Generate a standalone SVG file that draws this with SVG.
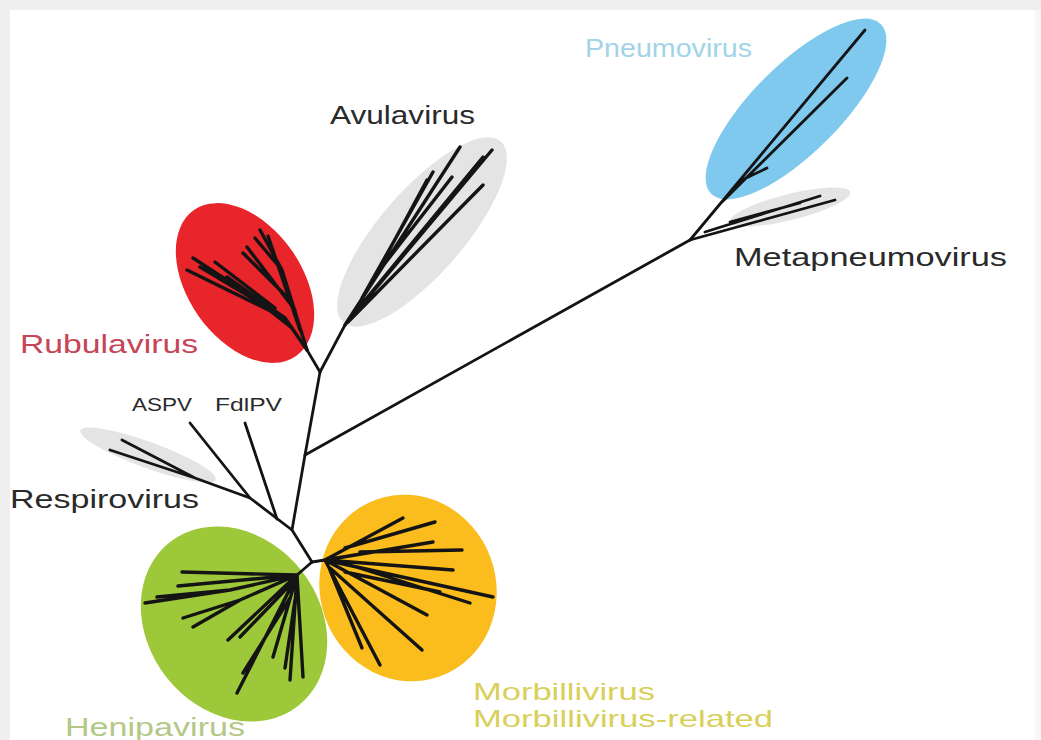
<svg xmlns="http://www.w3.org/2000/svg" width="1041" height="740" viewBox="0 0 1041 740">
<defs>
<style>
.lbl{font-family:"Liberation Sans",Arial,sans-serif;font-size:26px}
.mb{font-family:"Liberation Sans",Arial,sans-serif;font-size:24px;fill:#d8d05a}
.sm{font-family:"Liberation Sans",Arial,sans-serif;font-size:19px;fill:#2a2a2a}
.dark{fill:#2a2a2a}
.br{fill:none;stroke:#141414;stroke-width:2.8;stroke-linecap:round;stroke-linejoin:round}
.th{stroke-width:3.4}
.grey{fill:#e4e4e4}
</style>
</defs>
<rect x="0" y="0" width="1041" height="740" fill="#efefef"/>
<rect x="1035" y="10" width="6" height="730" fill="#f7f7f7"/>
<rect x="10" y="10" width="1025" height="730" fill="#ffffff"/>

<g id="clades">
<ellipse id="respiro-clade" class="grey" cx="148" cy="455" rx="72" ry="13" transform="rotate(20 148 455)"/>
<ellipse id="rubula-clade" cx="245" cy="283" rx="57" ry="89" fill="#e8252b" transform="rotate(-35 245 283)"/>
<ellipse id="avula-clade" class="grey" cx="422" cy="232" rx="42" ry="120" transform="rotate(41 422 232)"/>
<ellipse id="pneumo-clade" cx="796" cy="109" rx="44" ry="120" fill="#7fc8ee" transform="rotate(45 796 109)"/>
<ellipse id="metapneumo-clade" class="grey" cx="790" cy="207" rx="62" ry="13" transform="rotate(-14 790 207)"/>
<ellipse id="henipa-clade" cx="234" cy="624" rx="86" ry="104" fill="#9cc83a" transform="rotate(-38 234 624)"/>
<ellipse id="morbilli-clade" cx="408" cy="588" rx="88" ry="94" fill="#fbbd1d" transform="rotate(-20 408 588)"/>
</g>

<g id="connectors">
<path class="br" d="M320,372 L305,455 L292,530 L312,562"/>
<path class="br" d="M305,455 L690,240"/>
<path class="br" d="M690,240 L865,30 M722,202 L847,78 M742,180 L767,168"/>
<path class="br" d="M690,240 L835,200 M705,232 L820,196 M730,222 L800,203"/>
<path class="br" d="M292,530 L250,498 L195,478 L122,440 M195,478 L110,450"/>
<path class="br" d="M190,423 L250,498"/>
<path class="br" d="M245,423 L277,519"/>
<path class="br" d="M320,372 L307,350"/>
<path class="br th" d="M307,350 L285,318 L193,258 M285,318 L187,270 M280,315 L200,267 M275,308 L215,262 M285,318 L227,277 M292,328 L240,287"/>
<path class="br th" d="M307,350 L282,270 L260,230 M282,270 L255,238 M295,310 L247,247 M290,300 L243,253 M300,330 L268,236"/>
<path class="br" d="M320,372 L345,325"/>
<path class="br th" d="M345,325 L460,147 M345,325 L492,150 M352,316 L483,157 M362,298 L433,172 M348,322 L483,185 M372,280 L452,177 M385,258 L427,180"/>
<path class="br" d="M312,562 L297,575"/>
<path class="br th" d="M297,575 L182,572 M297,575 L178,586 M297,575 L230,590 L145,603 M230,590 L157,597 M297,575 L240,600 L183,618 M240,600 L193,627 M297,575 L228,640 M290,585 L240,637 M297,575 L237,693 M290,598 L243,673 M297,575 L273,657 M297,575 L290,680 M297,575 L303,677 M295,600 L285,668"/>
<path class="br" d="M312,562 L325,560"/>
<path class="br th" d="M325,560 L403,518 M345,548 L435,522 M325,560 L433,542 M360,552 L462,550 M325,560 L453,570 M325,560 L493,597 M350,565 L470,603 M325,560 L427,615 M330,568 L422,650 M325,560 L380,665 M330,570 L362,648 M345,572 L440,592"/>
</g>

<g id="labels">
<text class="lbl" x="585" y="57" fill="#a2d4e8" textLength="167" lengthAdjust="spacingAndGlyphs">Pneumovirus</text>
<text class="lbl dark" x="330" y="124" textLength="145" lengthAdjust="spacingAndGlyphs">Avulavirus</text>
<text class="lbl dark" x="734" y="266" textLength="273" lengthAdjust="spacingAndGlyphs">Metapneumovirus</text>
<text class="lbl" x="20" y="353" fill="#c64556" textLength="178" lengthAdjust="spacingAndGlyphs">Rubulavirus</text>
<text class="sm" x="132" y="411" textLength="60" lengthAdjust="spacingAndGlyphs">ASPV</text>
<text class="sm" x="215" y="411" textLength="67" lengthAdjust="spacingAndGlyphs">FdlPV</text>
<text class="lbl dark" x="10" y="508" textLength="189" lengthAdjust="spacingAndGlyphs">Respirovirus</text>
<text class="lbl" x="65" y="736" fill="#b3c888" textLength="180" lengthAdjust="spacingAndGlyphs">Henipavirus</text>
<text class="mb" x="473" y="700" textLength="182" lengthAdjust="spacingAndGlyphs">Morbillivirus</text>
<text class="mb" x="473" y="727" textLength="300" lengthAdjust="spacingAndGlyphs">Morbillivirus-related</text>
</g>
</svg>
